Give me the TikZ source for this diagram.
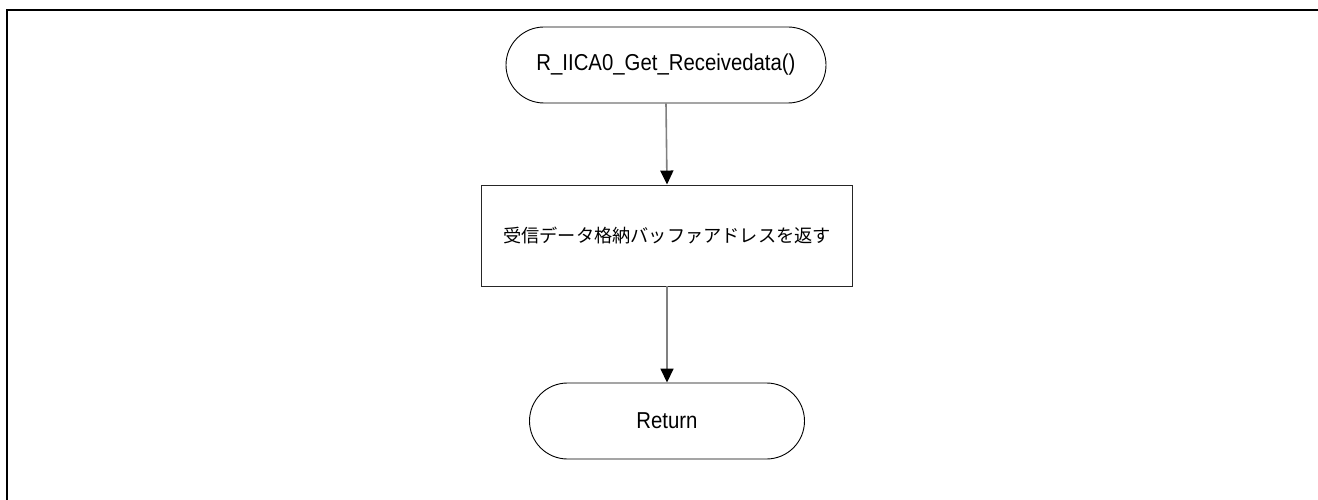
\documentclass[tikz,border=0pt]{standalone}
\usepackage{fontspec}
\setmainfont{Liberation Sans}
\newfontfamily\narrowfont[FakeStretch=0.885]{Liberation Sans}
\newfontfamily\jpfont{Noto Sans CJK JP}
\usetikzlibrary{arrows.meta,shapes.misc}
\begin{document}
\begin{tikzpicture}[x=1pt,y=-1pt,
  terminal/.style={draw=black,line width=0.9pt,rounded rectangle,minimum width=#1,minimum height=76pt,inner sep=0pt,font=\narrowfont\fontsize{23}{27}\selectfont},
  procbox/.style={draw=black!85,line width=0.9pt,rectangle,minimum width=371pt,minimum height=101pt,inner sep=0pt,font=\jpfont\fontsize{18.2}{22}\selectfont},
  flow/.style={draw=black!50,line width=1.6pt,-{Triangle[width=13pt,length=14pt,color=black,fill=black]}},
  frame/.style={draw=black,line width=2.2pt}]
\useasboundingbox (0,0) rectangle (1318,500);
\coordinate (ftop) at (1318,10);
\coordinate (fcorner) at (7,10);
\coordinate (fbot) at (7,500);
\draw[frame] (ftop) -- (fcorner) -- (fbot);
\node[terminal=320pt] (start) at (666,65) {R\_IICA0\_Get\_Receivedata()};
\node[procbox] (proc) at (667,235.5) {受信データ格納バッファアドレスを返す};
\node[terminal=275pt] (ret) at (667,421) {Return};
\draw[flow] (start.south) -- (proc.north);
\draw[flow] (proc.south) -- (ret.north);
\end{tikzpicture}
\end{document}
